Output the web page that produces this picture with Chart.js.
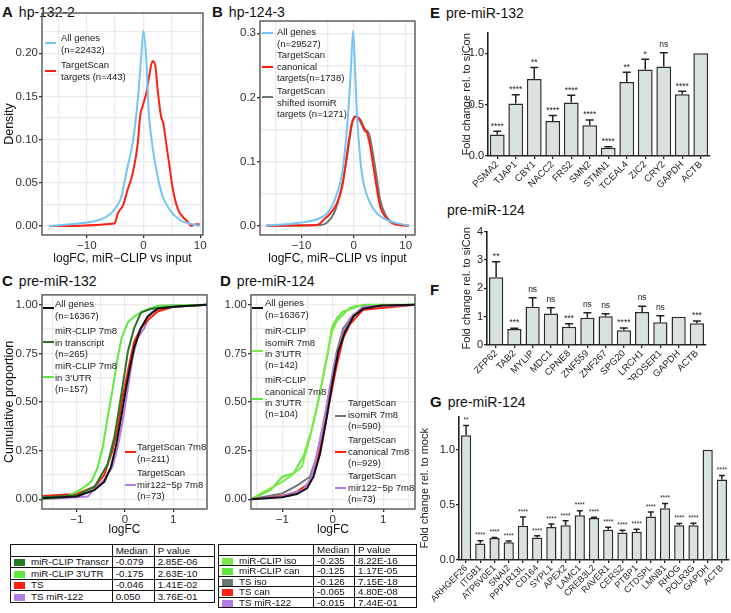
<!DOCTYPE html>
<html>
<head>
<meta charset="utf-8">
<script src="https://cdn.jsdelivr.net/npm/chart.js@4.4.1/dist/chart.umd.min.js"></script>
<style>
body { margin: 0; background: #fff; font-family: "Liberation Sans", Arial, sans-serif; }
#wrap { position: relative; width: 731px; height: 613px; overflow: hidden; }
canvas { position: absolute; }
.t { position: absolute; white-space: nowrap; color: #111; font-size: 14px; line-height: 16px; }
.t b { font-size: 15px; margin-right: 6px; }
.lg { position: absolute; font-size: 9.5px; line-height: 11.2px; color: #222; white-space: nowrap; }
.key { position: absolute; height: 2.5px; width: 11px; }
table.st { position: absolute; border-collapse: collapse; font-size: 9.8px; color: #111; }
table.st td { border: 1px solid #111; padding: 0 3px; line-height: 9px; white-space: nowrap; }
.sw { display: inline-block; width: 11px; height: 7px; margin-right: 6px; vertical-align: -1px; }
</style>
</head>
<body>
<div id="wrap">
  <div class="t" style="left:2px;top:4px"><b>A</b>hp-132-2</div>
  <div class="t" style="left:212px;top:4px"><b>B</b>hp-124-3</div>
  <div class="t" style="left:2px;top:273px"><b>C</b>pre-miR-132</div>
  <div class="t" style="left:220px;top:273px"><b>D</b>pre-miR-124</div>
  <div class="t" style="left:430px;top:5px"><b>E</b>pre-miR-132</div>
  <div class="t" style="left:447px;top:202px">pre-miR-124</div>
  <div class="t" style="left:430px;top:282px"><b>F</b></div>
  <div class="t" style="left:430px;top:394px"><b>G</b>pre-miR-124</div>

  <canvas id="cA" width="212" height="266" style="left:0;top:0"></canvas>
  <canvas id="cB" width="212" height="266" style="left:212px;top:0"></canvas>
  <canvas id="cC" width="214" height="250" style="left:0;top:287px"></canvas>
  <canvas id="cD" width="212" height="250" style="left:212px;top:287px"></canvas>
  <canvas id="cE" width="271" height="180" style="left:460px;top:25px"></canvas>
  <canvas id="cF" width="271" height="156" style="left:460px;top:224px"></canvas>
  <canvas id="cG" width="313" height="204" style="left:418px;top:409px"></canvas>
</div>
<script>
// ---- colours
const BLUE = '#74c5f5', RED = '#ff2010', GREY = '#6b7878', BLACK = '#111111'
const DKGREEN = '#237a23', LTGREEN = '#5eea3c', GREEN2 = '#7ee84a', PURPLE = '#b27ee6'
const FONT = '"Liberation Sans", Arial, sans-serif'

// ---- A: density, hp-132-2
const aAllX = [-16.6, -13, -10, -7.8, -6, -4.8, -3.9, -2.8, -1.9, -1.0, -0.4, 0, 0.5, 0.9, 1.6, 2.5, 3.4, 4.6, 6.4, 8.1, 9.9]
const aAllY = [0, 0.002, 0.004, 0.007, 0.013, 0.022, 0.034, 0.069, 0.096, 0.146, 0.196, 0.226, 0.192, 0.134, 0.092, 0.057, 0.034, 0.019, 0.007, 0.003, 0]
const aTsX = [-16.6, -5.1, -4.5, -3.6, -2.8, -1.9, -1.0, -0.6, -0.1, 0.5, 1.1, 1.6, 2.1, 2.5, 3.1, 3.5, 4.0, 4.6, 5.2, 6.1, 6.9, 7.8, 8.4, 9.3, 9.9]
const aTsY = [0, 0.003, 0.015, 0.024, 0.042, 0.061, 0.096, 0.127, 0.14, 0.154, 0.177, 0.191, 0.185, 0.158, 0.127, 0.119, 0.096, 0.069, 0.042, 0.019, 0.011, 0.005, 0, 0.002, 0.002]

// ---- B: density, hp-124-3
const bAllX = [-16.8, -10, -7, -5.4, -4.2, -3.2, -2.2, -1.6, -1.0, -0.5, -0.1, 0.25, 0.6, 1.3, 1.9, 3.2, 4.5, 6.4, 8.3, 10.6]
const bAllY = [0, 0.005, 0.01, 0.017, 0.03, 0.05, 0.082, 0.123, 0.18, 0.248, 0.304, 0.248, 0.18, 0.102, 0.066, 0.035, 0.019, 0.009, 0.004, 0]
const bCanX = [-16.8, -7, -5.8, -4.5, -3.2, -2.2, -1.6, -1.0, -0.3, 0.5, 1.3, 1.9, 2.6, 3.2, 3.8, 4.5, 5.1, 6.1, 7.7, 10.6]
const bCanY = [0, 0.001, 0.009, 0.019, 0.035, 0.061, 0.092, 0.128, 0.16, 0.17, 0.165, 0.154, 0.144, 0.123, 0.092, 0.056, 0.03, 0.014, 0.003, 0]
const bIsoX = [-16.8, -6.4, -5.1, -3.8, -2.9, -1.9, -1.0, -0.3, 0.3, 1.0, 1.6, 2.2, 2.6, 3.1, 3.8, 4.5, 5.1, 6.1, 7.7, 10.6]
const bIsoY = [0, 0.001, 0.005, 0.019, 0.04, 0.076, 0.123, 0.16, 0.17, 0.166, 0.157, 0.147, 0.148, 0.139, 0.108, 0.071, 0.04, 0.017, 0.004, 0]

// ---- C: cumulative, pre-miR-132
const cAllX = [-1.72, -1, -0.63, -0.43, -0.29, -0.19, -0.08, 0, 0.09, 0.19, 0.33, 0.47, 0.68, 1.0, 1.72]
const cAllY = [0.005, 0.014, 0.048, 0.09, 0.167, 0.27, 0.42, 0.54, 0.66, 0.78, 0.88, 0.94, 0.98, 0.99, 1.0]
const cTrX = [-1.72, -1, -0.63, -0.36, -0.22, -0.12, -0.01, 0.06, 0.19, 0.33, 0.54, 1.0, 1.72]
const cTrY = [0.01, 0.02, 0.065, 0.18, 0.32, 0.47, 0.645, 0.76, 0.88, 0.96, 0.98, 0.99, 1.0]
const cUtrX = [-1.72, -1.2, -0.93, -0.7, -0.57, -0.46, -0.36, -0.26, -0.15, -0.07, 0.06, 0.19, 0.4, 0.68, 1.72]
const cUtrY = [0, 0.014, 0.048, 0.09, 0.16, 0.27, 0.42, 0.56, 0.73, 0.83, 0.91, 0.94, 0.97, 0.995, 1.0]
const cTsX = [-1.72, -1, -0.63, -0.43, -0.26, -0.15, -0.05, 0.06, 0.19, 0.33, 0.47, 0.68, 1.0, 1.72]
const cTsY = [0.017, 0.027, 0.065, 0.125, 0.25, 0.37, 0.525, 0.66, 0.81, 0.88, 0.92, 0.966, 0.99, 1.0]
const cMirX = [-1.72, -0.77, -0.63, -0.43, -0.26, -0.15, -0.05, 0.06, 0.16, 0.26, 0.4, 0.54, 0.74, 1.72]
const cMirY = [0, 0.014, 0.056, 0.1, 0.167, 0.27, 0.4, 0.57, 0.73, 0.83, 0.88, 0.96, 0.995, 1.0]

// ---- D: cumulative, pre-miR-124
const dAllX = [-1.62, -1, -0.71, -0.51, -0.38, -0.25, -0.12, 0, 0.11, 0.24, 0.41, 0.6, 0.95, 1.63]
const dAllY = [0, 0.01, 0.027, 0.056, 0.116, 0.235, 0.42, 0.61, 0.76, 0.86, 0.94, 0.98, 0.997, 1.0]
const dMirX = [-1.62, -1, -0.58, -0.42, -0.28, -0.15, -0.05, 0.08, 0.21, 0.34, 0.6, 1.63]
const dMirY = [0, 0.014, 0.048, 0.116, 0.27, 0.44, 0.58, 0.745, 0.86, 0.93, 0.99, 1.0]
const dCanX = [-1.62, -1, -0.71, -0.48, -0.32, -0.18, -0.05, 0.08, 0.21, 0.34, 0.6, 1.63]
const dCanY = [0, 0.017, 0.039, 0.08, 0.18, 0.34, 0.52, 0.69, 0.83, 0.9, 0.975, 1.0]
const dIsoX = [-1.62, -1, -0.71, -0.45, -0.32, -0.18, -0.05, 0.08, 0.21, 0.41, 0.75, 1.63]
const dIsoY = [0, 0.03, 0.07, 0.116, 0.22, 0.39, 0.58, 0.76, 0.88, 0.95, 0.99, 1.0]
const dIsoUtrX = [-1.62, -1.36, -1, -0.85, -0.61, -0.45, -0.32, -0.22, -0.15, -0.02, 0.08, 0.21, 0.34, 0.48, 1.63]
const dIsoUtrY = [0, 0.04, 0.09, 0.116, 0.167, 0.32, 0.47, 0.59, 0.69, 0.86, 0.915, 0.95, 0.986, 0.995, 1.0]
const dCanUtrX = [-1.62, -1.23, -1, -0.78, -0.58, -0.42, -0.28, -0.18, -0.09, -0.02, 0.08, 0.21, 0.41, 0.6, 1.63]
const dCanUtrY = [0, 0.048, 0.116, 0.133, 0.22, 0.355, 0.51, 0.645, 0.76, 0.88, 0.93, 0.966, 0.983, 1.0, 1.0]

// ---- tick grids
const densXGrid = [-15, -10, -5, 0, 5, 10]
const densXLab = [-10, 0, 10]
const aYGrid = [0, 0.025, 0.05, 0.075, 0.1, 0.125, 0.15, 0.175, 0.2, 0.225]
const aYLab = [0, 0.05, 0.1, 0.15, 0.2]
const bYGrid = [0, 0.05, 0.1, 0.15, 0.2, 0.25, 0.3]
const bYLab = [0, 0.1, 0.2, 0.3]
const cumXGrid = [-1.5, -1, -0.5, 0, 0.5, 1, 1.5]
const cumXLab = [-1, 0, 1]
const cumYGrid = [0, 0.125, 0.25, 0.375, 0.5, 0.625, 0.75, 0.875, 1]
const cumYLab = [0, 0.25, 0.5, 0.75, 1]

// ---- E / F / G bar data
const eGenes = ['PSMA2', 'TJAP1', 'CBY1', 'NACC2', 'FRS2', 'SMN2', 'STMN1', 'TCEAL4', 'ZIC2', 'CRY2', 'GAPDH', 'ACTB']
const eMean = [0.21, 0.51, 0.75, 0.34, 0.52, 0.30, 0.08, 0.72, 0.84, 0.87, 0.60, 1.0]
const eSd = [0.03, 0.085, 0.11, 0.055, 0.07, 0.05, 0.01, 0.095, 0.10, 0.135, 0.03, 0]
const eSig = ['****', '****', '**', '****', '****', '****', '****', '**', '*', 'ns', '****', '']

const fGenes = ['ZFP62', 'TAB2', 'MYLIP', 'MDC1', 'CPNE8', 'ZNF559', 'ZNF267', 'SPG20', 'LRCH1', 'PROSER1', 'GAPDH', 'ACTB']
const fMean = [2.39, 0.56, 1.35, 1.11, 0.64, 0.96, 1.01, 0.52, 1.16, 0.80, 1.0, 0.77]
const fSd = [0.55, 0.03, 0.32, 0.20, 0.11, 0.18, 0.09, 0.08, 0.21, 0.23, 0, 0.08]
const fSig = ['**', '***', 'ns', 'ns', '***', 'ns', 'ns', '****', 'ns', 'ns', '', '***']

const gGenes = ['ARHGEF26', 'ITGB1', 'ATP6V0E1', 'SNAI2', 'PPP1R13L', 'CD164', 'SYPL1', 'APEX2', 'LAMC1', 'CREB3L2',
    'RAVER1', 'CERS2', 'PTBP1', 'CTDSPL', 'LMNB1', 'RHOG', 'POLR3G', 'GAPDH', 'ACTB']
const gMean = [1.13, 0.15, 0.20, 0.16, 0.31, 0.205, 0.30, 0.315, 0.405, 0.38, 0.275, 0.25, 0.255, 0.395, 0.47, 0.315, 0.315, 1.0, 0.73]
const gSd = [0.09, 0.025, 0.005, 0.012, 0.08, 0.015, 0.027, 0.04, 0.042, 0.008, 0.021, 0.019, 0.024, 0.04, 0.042, 0.015, 0.018, 0, 0.035]
const gSig = ['**', '****', '****', '****', '****', '****', '****', '****', '****', '****',
    '****', '****', '****', '****', '****', '****', '****', '', '****']

// ---- summary tables
const cTable = [
    ['miR-CLIP Transcr', '-0.079', '2.85E-06', DKGREEN],
    ["miR-CLIP 3'UTR", '-0.175', '2.63E-10', LTGREEN],
    ['TS', '-0.046', '1.41E-02', RED],
    ['TS miR-122', '0.050', '3.76E-01', PURPLE]
]
const dTable = [
    ['miR-CLIP iso', '-0.235', '8.22E-16', GREEN2],
    ['miR-CLIP can', '-0.125', '1.17E-05', LTGREEN],
    ['TS iso', '-0.126', '7.15E-18', GREY],
    ['TS can', '-0.065', '4.80E-08', RED],
    ['TS miR-122', '-0.015', '7.44E-01', PURPLE]
]

function has(list, v) {
    return list.some(m => Math.abs(m - v) < 1e-9)
}

function fmt(v, dec) {
    let s = Math.abs(v).toFixed(dec)
    return v < 0 ? '\u2212' + s : s
}

// panel border like ggplot theme_light
const framePlugin = {
    id: 'frame',
    afterDraw(chart) {
        const { ctx, chartArea: a } = chart
        ctx.save()
        ctx.strokeStyle = '#555'
        ctx.lineWidth = 1.4
        ctx.strokeRect(a.left, a.top, a.right - a.left, a.bottom - a.top)
        ctx.restore()
    }
}

// error bars (upper only) and significance marks
const errPlugin = {
    id: 'errs',
    afterDatasetsDraw(chart, args, o) {
        const ctx = chart.ctx
        const ys = chart.scales.y
        const bars = chart.getDatasetMeta(0).data
        const vals = chart.data.datasets[0].data
        ctx.save()
        ctx.strokeStyle = '#222'
        ctx.fillStyle = '#222'
        ctx.lineWidth = 1.5
        ctx.textAlign = 'center'
        ctx.textBaseline = 'alphabetic'
        bars.forEach((b, i) => {
            const e = o.sd[i]
            const top = ys.getPixelForValue(vals[i] + e)
            if (e > 0) {
                ctx.beginPath()
                ctx.moveTo(b.x, b.y)
                ctx.lineTo(b.x, top)
                ctx.moveTo(b.x - o.cap, top)
                ctx.lineTo(b.x + o.cap, top)
                ctx.stroke()
            }
            const s = o.sig[i]
            if (s) {
                ctx.font = o.size + 'px ' + FONT
                let lift = s === 'ns' ? 0.26 : 0.58
                ctx.fillText(s, b.x, top - o.gap + lift * o.size)
            }
        })
        ctx.restore()
    }
}

function curveChart(id, series, o) {
    let tickCol = (lab) => (c) => has(lab, c.tick.value) ? '#333' : 'rgba(0,0,0,0)'
    new Chart(document.getElementById(id), {
        type: 'scatter',
        data: {
            datasets: series.map(s => ({
                data: s.x.map((v, i) => ({ x: v, y: s.y[i] })),
                showLine: true,
                borderColor: s.color,
                borderWidth: 2,
                pointRadius: 0,
                cubicInterpolationMode: o.smooth ? 'monotone' : 'default',
                tension: o.smooth ? 0.4 : 0
            }))
        },
        options: {
            animation: false,
            responsive: false,
            layout: { padding: o.pad },
            plugins: { legend: { display: false }, tooltip: { enabled: false } },
            scales: {
                x: {
                    type: 'linear', min: o.xMin, max: o.xMax,
                    afterBuildTicks: s => { s.ticks = o.xGrid.map(v => ({ value: v })) },
                    afterFit: s => { s.height = o.xH },
                    grid: { color: '#ebebeb', lineWidth: 1.3, tickLength: 3, tickColor: tickCol(o.xLab) },
                    border: { display: false },
                    ticks: {
                        padding: 1, color: '#333', maxRotation: 0, autoSkip: false,
                        font: { family: FONT, size: 11.5 },
                        callback: v => has(o.xLab, v) ? fmt(v, 0) : ''
                    },
                    title: { display: true, text: o.xTitle, color: '#111', font: { family: FONT, size: 12 }, padding: 0 }
                },
                y: {
                    type: 'linear', min: o.yMin, max: o.yMax,
                    afterBuildTicks: s => { s.ticks = o.yGrid.map(v => ({ value: v })) },
                    afterFit: s => { s.width = o.yW },
                    grid: { color: '#ebebeb', lineWidth: 1.3, tickLength: 3, tickColor: tickCol(o.yLab) },
                    border: { display: false },
                    ticks: {
                        padding: 1, color: '#333', autoSkip: false,
                        font: { family: FONT, size: 11.5 },
                        callback: v => has(o.yLab, v) ? fmt(v, o.yDec) : ''
                    },
                    title: { display: !!o.yTitle, text: o.yTitle, color: '#111', font: { family: FONT, size: 12.5 }, padding: { top: 2, bottom: 0 } }
                }
            }
        },
        plugins: [framePlugin]
    })
}

function barChart(id, genes, mean, sd, sig, o) {
    new Chart(document.getElementById(id), {
        type: 'bar',
        data: {
            labels: genes,
            datasets: [{
                data: mean,
                backgroundColor: '#dae2e0',
                borderColor: '#2b2b2b',
                borderWidth: 1.5,
                barPercentage: o.bp,
                categoryPercentage: 1
            }]
        },
        options: {
            animation: false,
            responsive: false,
            layout: { padding: o.pad },
            plugins: {
                legend: { display: false }, tooltip: { enabled: false },
                errs: { sd: sd, sig: sig, cap: o.cap, gap: o.gap, size: o.sigSize }
            },
            scales: {
                x: {
                    afterFit: s => { s.height = o.xH },
                    grid: { display: true, drawOnChartArea: false, offset: false, tickLength: 3, color: '#222', lineWidth: 1.3 },
                    border: { color: '#222', width: 1.6 },
                    ticks: {
                        minRotation: 45, maxRotation: 45, autoSkip: false, padding: 0, color: '#222',
                        font: { family: FONT, size: o.labSize }
                    }
                },
                y: {
                    min: 0, max: o.yMax,
                    afterBuildTicks: s => { s.ticks = o.yTicks.map(v => ({ value: v })) },
                    afterFit: s => { s.width = o.yW },
                    grid: { drawOnChartArea: false, tickLength: 3, color: '#222', lineWidth: 1.3 },
                    border: { color: '#222', width: 1.6 },
                    ticks: { padding: 1, color: '#222', font: { family: FONT, size: 11 }, callback: v => fmt(v, o.yDec) },
                    title: { display: true, text: o.yTitle, color: '#222', font: { family: FONT, size: 11 }, padding: 0 }
                }
            }
        },
        plugins: [errPlugin]
    })
}

curveChart('cA', [
    { x: aAllX, y: aAllY, color: BLUE },
    { x: aTsX, y: aTsY, color: RED }
], {
    smooth: true, xMin: -17.9, xMax: 10.5, yMin: -0.0104, yMax: 0.2467,
    xGrid: densXGrid, xLab: densXLab, yGrid: aYGrid, yLab: aYLab, yDec: 2,
    xTitle: 'logFC, miR\u2212CLIP vs input', yTitle: 'Density',
    pad: { top: 13, right: 9, left: 0, bottom: 0 }, yW: 42, xH: 31
})

curveChart('cB', [
    { x: bAllX, y: bAllY, color: BLUE },
    { x: bCanX, y: bCanY, color: RED },
    { x: bIsoX, y: bIsoY, color: GREY }
], {
    smooth: true, xMin: -18.0, xMax: 11.8, yMin: -0.0145, yMax: 0.319,
    xGrid: densXGrid, xLab: densXLab, yGrid: bYGrid, yLab: bYLab, yDec: 1,
    xTitle: 'logFC, miR\u2212CLIP vs input', yTitle: '',
    pad: { top: 21, right: 9, left: 0, bottom: 0 }, yW: 48, xH: 31
})

curveChart('cC', [
    { x: cAllX, y: cAllY, color: BLACK },
    { x: cTrX, y: cTrY, color: DKGREEN },
    { x: cUtrX, y: cUtrY, color: LTGREEN },
    { x: cTsX, y: cTsY, color: RED },
    { x: cMirX, y: cMirY, color: PURPLE }
], {
    smooth: false, xMin: -1.72, xMax: 1.70, yMin: -0.05, yMax: 1.051,
    xGrid: cumXGrid, xLab: cumXLab, yGrid: cumYGrid, yLab: cumYLab, yDec: 2,
    xTitle: 'logFC', yTitle: 'Cumulative proportion',
    pad: { top: 7, right: 7, left: 0, bottom: 0 }, yW: 42, xH: 28
})

curveChart('cD', [
    { x: dAllX, y: dAllY, color: BLACK },
    { x: dMirX, y: dMirY, color: PURPLE },
    { x: dCanX, y: dCanY, color: RED },
    { x: dIsoX, y: dIsoY, color: GREY },
    { x: dIsoUtrX, y: dIsoUtrY, color: GREEN2 },
    { x: dCanUtrX, y: dCanUtrY, color: LTGREEN }
], {
    smooth: false, xMin: -1.62, xMax: 1.63, yMin: -0.05, yMax: 1.051,
    xGrid: cumXGrid, xLab: cumXLab, yGrid: cumYGrid, yLab: cumYLab, yDec: 2,
    xTitle: 'logFC', yTitle: '',
    pad: { top: 7, right: 9, left: 0, bottom: 0 }, yW: 39, xH: 28
})

barChart('cE', eGenes, eMean, eSd, eSig, {
    yMax: 1.2, yTicks: [0, 0.5, 1.0], yDec: 1, yTitle: 'Fold change rel. to siCon',
    bp: 0.8, cap: 4, gap: 7.5, sigSize: 8.5, labSize: 9.5,
    pad: { top: 7, right: 21, left: 0, bottom: 0 }, yW: 28, xH: 49
})

barChart('cF', fGenes, fMean, fSd, fSig, {
    yMax: 4, yTicks: [0, 1, 2, 3, 4], yDec: 0, yTitle: 'Fold change rel. to siCon',
    bp: 0.78, cap: 4, gap: 8, sigSize: 8.5, labSize: 9.5,
    pad: { top: 7, right: 25, left: 0, bottom: 0 }, yW: 27, xH: 35
})

barChart('cG', gGenes, gMean, gSd, gSig, {
    yMax: 1.3, yTicks: [0, 0.5, 1.0], yDec: 1, yTitle: 'Fold change rel. to mock',
    bp: 0.72, cap: 3, gap: 7, sigSize: 6.5, labSize: 9,
    pad: { top: 7, right: 2, left: 0, bottom: 0 }, yW: 41, xH: 53
})

// ---- legends (drawn in page, inside plot panels)
const wrap = document.getElementById('wrap')
function legend(keyX, textX, entries) {
    entries.forEach(e => {
        let k = document.createElement('div')
        k.className = 'key'
        k.style.left = keyX + 'px'
        k.style.top = (e.key - 1.25) + 'px'
        k.style.background = e.color
        wrap.appendChild(k)
        let t = document.createElement('div')
        t.className = 'lg'
        t.style.left = textX + 'px'
        t.style.top = (e.top - 5.6) + 'px'
        t.innerHTML = e.lines.join('<br>')
        wrap.appendChild(t)
    })
}

legend(45, 61, [
    { key: 43, top: 38, color: BLUE, lines: ['All genes', '(n=22432)'] },
    { key: 71, top: 65, color: RED, lines: ['TargetScan', 'targets (n=443)'] }
])
legend(262, 277, [
    { key: 33, top: 32, color: BLUE, lines: ['All genes', '(n=29527)'] },
    { key: 67, top: 55, color: RED, lines: ['TargetScan', 'canonical', 'targets(n=1738)'] },
    { key: 97, top: 91, color: GREY, lines: ['TargetScan', 'shifted isomiR', 'targets (n=1271)'] }
])
legend(43, 55, [
    { key: 308, top: 304, color: BLACK, lines: ['All genes', '(n=16367)'] },
    { key: 342, top: 331, color: DKGREEN, lines: ['miR-CLIP 7m8', 'in transcript', '(n=265)'] },
    { key: 377, top: 366, color: LTGREEN, lines: ['miR-CLIP 7m8', "in 3'UTR", '(n=157)'] }
])
legend(125, 137, [
    { key: 452, top: 447, color: RED, lines: ['TargetScan 7m8', '(n=211)'] },
    { key: 485, top: 473, color: PURPLE, lines: ['TargetScan', 'mir122\u22125p 7m8', '(n=73)'] }
])
legend(252, 265, [
    { key: 308, top: 303, color: BLACK, lines: ['All genes', '(n=16367)'] },
    { key: 351, top: 331, color: GREEN2, lines: ['miR-CLIP', 'isomiR 7m8', "in 3'UTR", '(n=142)'] },
    { key: 399, top: 380, color: LTGREEN, lines: ['miR-CLIP', 'canonical 7m8', "in 3'UTR", '(n=104)'] }
])
legend(335, 348, [
    { key: 416, top: 403, color: GREY, lines: ['TargetScan', 'isomiR 7m8', '(n=590)'] },
    { key: 452, top: 440, color: RED, lines: ['TargetScan', 'canonical 7m8', '(n=929)'] },
    { key: 488, top: 476, color: PURPLE, lines: ['TargetScan', 'mir122\u22125p 7m8', '(n=73)'] }
])

// ---- tables
function table(rows, left, top, widths, rowH) {
    let t = document.createElement('table')
    t.className = 'st'
    t.style.left = left + 'px'
    t.style.top = top + 'px'
    let html = '<tr>' + ['', 'Median', 'P value'].map((h, i) =>
        `<td style="width:${widths[i] - 7}px;height:${rowH}px">${h}</td>`).join('') + '</tr>'
    rows.forEach(r => {
        html += `<tr><td style="height:${rowH}px"><span class="sw" style="background:${r[3]}"></span>${r[0]}</td>` +
            `<td>${r[1]}</td><td>${r[2]}</td></tr>`
    })
    t.innerHTML = html
    wrap.appendChild(t)
}
table(cTable, 10, 544, [95, 42, 60], 10.5)
table(dTable, 218, 544, [95, 41, 62], 9.5)
</script>
</body>
</html>
